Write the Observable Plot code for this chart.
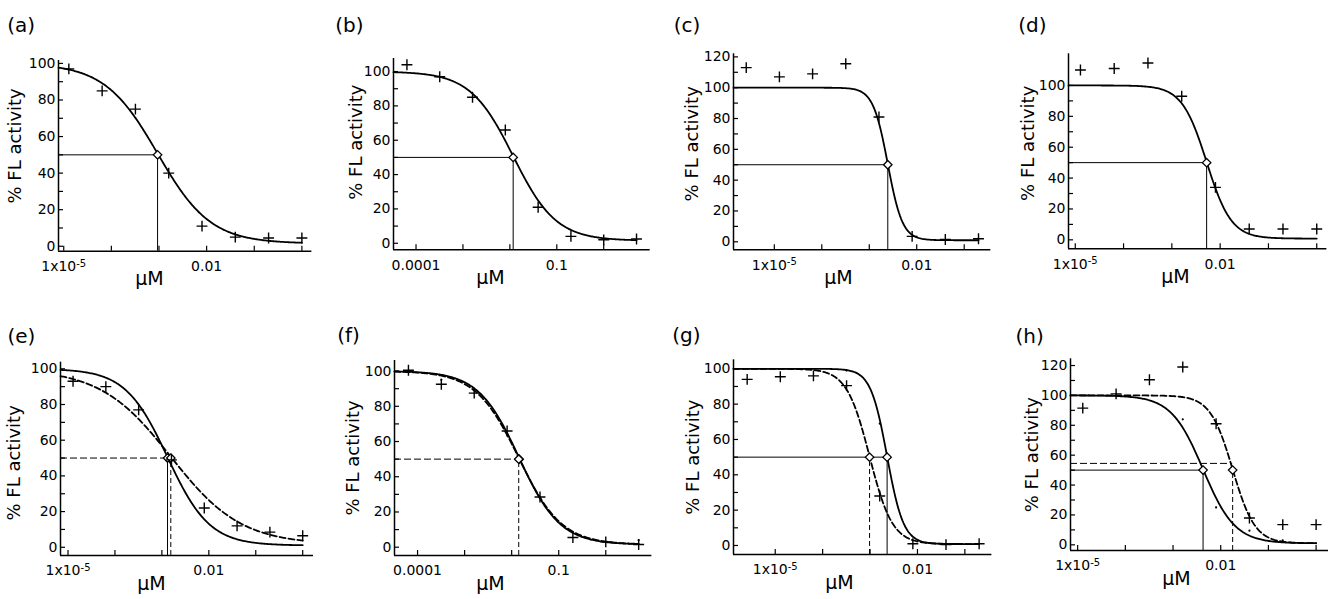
<!DOCTYPE html>
<html><head><meta charset="utf-8">
<script src="https://cdn.jsdelivr.net/npm/d3@7"></script>
<script src="https://cdn.jsdelivr.net/npm/@observablehq/plot@0.6"></script>
<style>
html,body{margin:0;padding:0;background:#fff;}
#fig{position:relative;width:1337px;height:599px;overflow:hidden;background:#fff;}
#fig .panel{position:absolute;}
</style></head><body><div id="fig"></div>
<script>
// ================= DATA =================
const panelIds = ["a","b","c","d","e","f","g","h"];

// concentrations (µM), 5-fold dilution series read from the x positions
const concA = [0.0000128, 0.000064, 0.00032, 0.0016, 0.008, 0.04, 0.2, 1];
const concB = [0.000064, 0.00032, 0.0016, 0.008, 0.04, 0.2, 1, 5];
const concC = [0.00000256, 0.0000128, 0.000064, 0.00032, 0.0016, 0.008, 0.04, 0.2];

// % FL activity at each concentration ("+" markers)
const actA = [97, 85, 75, 40, 11, 5, 4.5, 4.5];
const actB = [104, 97, 85, 66, 21, 4, 2, 2.5];
const actC = [113, 107, 109, 115.5, 81, 3.5, 1.5, 2];
const actD = [110, 111, 114.5, 93, 34, 7, 7, 7];
const actE = [93, 90, 77, 49, 22, 12, 8.5, 6.5];
const actF = [100.5, 92.5, 87.5, 66, 28.5, 5.5, 3, 1.5];
const actG = [94, 95.5, 96, 90.5, 28, 1, 0.5, 1];
const actH = [91.5, 101, 110.5, 119, 81, 18, 13.5, 13.5];

const panelConc = [concA, concB, concC, concA, concA, concB, concC, concA];
const panelAct  = [actA, actB, actC, actD, actE, actF, actG, actH];

// faint points of the second series (small dots)
const minorPanel = ["f","f","g","g","h","h","h","h"];
const minorConc  = [0.00032, 5, 0.00032, 0.0016, 0.0016, 0.008, 0.04, 0.2];
const minorAct   = [95, 4, 99, 69, 84, 25, 9.5, 3];

// fitted dose-response curves (4-parameter logistic)
const fitPanel   = ["a","b","c","d","e","e","f","f","g","g","h","h"];
const fitDashed  = [false,false,false,false,false,true,false,true,false,true,false,true];
const fitLogIC50 = [-3.03,-1.93,-2.61,-2.28,-2.88,-2.81,-1.84,-1.85,-2.64,-3.01,-2.37,-1.75];
const fitHill    = [0.78,0.95,2.8,1.7,0.97,0.58,1.0,0.95,2.5,1.8,1.3,1.85];
const fitTop     = [100,100,100,100,100,100,100,100,100,100,100,100];
const fitBottom  = [1.5,1.5,1,0.8,1,1.5,1.5,1.5,0.8,0.8,1,1];

// IC50 guide lines: which fit they belong to, and the level of the horizontal line
const hGuideFit = [0,1,2,3,5,7,8,10,11];
const hGuideY   = [50,50,50,50,50,50,50,50,54.5];
const vGuideFit = [0,1,2,3,4,5,7,8,9,10,11];

// axes
const decadesA = [1e-5, 1e-4, 1e-3, 1e-2, 1e-1, 1];
const decadesB = [1e-4, 1e-3, 1e-2, 1e-1, 1];
const decadesC = [1e-5, 1e-4, 1e-3, 1e-2, 1e-1];
const tickValsA = [1e-5, 0.01], tickTextA = ["1x10-5", "0.01"];
const tickValsB = [1e-4, 0.1],  tickTextB = ["0.0001", "0.1"];
const panelDecades = [decadesA, decadesB, decadesC, decadesA, decadesA, decadesB, decadesC, decadesA];
const panelTickVals = [tickValsA, tickValsB, tickValsA, tickValsA, tickValsA, tickValsB, tickValsA, tickValsA];
const panelTickText = [tickTextA, tickTextB, tickTextA, tickTextA, tickTextA, tickTextB, tickTextA, tickTextA];
const yMajor100 = [0, 20, 40, 60, 80, 100];
const yMajor120 = [0, 20, 40, 60, 80, 100, 120];
const yMinor100 = [10, 30, 50, 70, 90];
const yMinor120 = [10, 30, 50, 70, 90, 110];
const panelYMajor = [yMajor100, yMajor100, yMajor120, yMajor100, yMajor100, yMajor100, yMajor100, yMajor120];
const panelYMinor = [yMinor100, yMinor100, yMinor120, yMinor100, yMinor100, yMinor100, yMinor100, yMinor120];
const xLogMin = [-5.11, -4.48, -5.86, -5.14, -5.16, -4.49, -5.88, -5.15];
const xLogMax = [0.21, 0.99, -0.44, 0.21, 0.23, 0.98, -0.43, 0.26];
const yMin = [-2.7, -3.8, -5.2, -5.8, -4.6, -4.7, -5.1, -3.8];
const yMax = [101.6, 107.6, 122, 120.5, 103.7, 106, 105.1, 124.5];

// ================= LAYOUT =================
const areaLeft   = [58.3, 393.3, 732.7, 1068.3, 60, 394.3, 733.3, 1070];
const areaTop    = [60, 58, 53.3, 53.3, 361.7, 360, 359.3, 358.3];
const areaRight  = [311.7, 650, 990, 1326.7, 313, 651.7, 991.7, 1328];
const areaBottom = [250.7, 249.3, 249.3, 248.3, 555, 555, 554, 550];
const labelX     = [7, 335, 673, 1018, 7, 337, 672, 1015];
const labelBase  = [32, 32, 32, 32, 342, 342, 342, 342];
const xTitleOff  = [91, 97, 105, 107, 91, 96, 106, 106];
const yTitleOff  = [43, 37, 41, 40, 46, 41, 40, 38];
const yTitleDy   = [-10, -12, -8, -8, 4, 0, 0, 0];

const FONT = "'DejaVu Sans', 'Liberation Sans', Arial, sans-serif";
const fig = document.getElementById("fig");

function makePanel(i) {
  const id = panelIds[i];
  const rowTop = i < 4 ? 0 : 300;
  const mL = 58, mR = 8, mB = 44;
  const mT = areaTop[i] - rowTop;
  const width = areaRight[i] - areaLeft[i] + mL + mR;
  const height = areaBottom[i] - rowTop + mB;
  const x0 = 10 ** xLogMin[i], x1 = 10 ** xLogMax[i];
  const conc = panelConc[i], act = panelAct[i];
  const pts = conc.map((c, k) => ({c, v: act[k]}));
  const minor = minorPanel.map((p, k) => ({p, c: minorConc[k], v: minorAct[k]})).filter(d => d.p === id);
  const fits = fitPanel.map((p, k) => p === id ? k : -1).filter(k => k >= 0);
  const lo = xLogMin[i], hi = Math.log10(d3.max(conc));
  const curveRows = [];
  for (const k of fits) {
    for (let j = 0; j <= 240; ++j) {
      const lx = lo + (hi - lo) * j / 240;
      const y = fitBottom[k] + (fitTop[k] - fitBottom[k]) / (1 + 10 ** ((lx - fitLogIC50[k]) * fitHill[k]));
      curveRows.push({fit: k, dashed: fitDashed[k], x: 10 ** lx, y});
    }
  }
  const hg = hGuideFit.map((k, n) => ({k, y: hGuideY[n], x: 10 ** fitLogIC50[k], dashed: fitDashed[k]})).filter(d => fitPanel[d.k] === id);
  const vg = vGuideFit.map(k => ({k, x: 10 ** fitLogIC50[k], dashed: fitDashed[k]})).filter(d => fitPanel[d.k] === id);
  const ic = fits.map(k => ({x: 10 ** fitLogIC50[k], y: 50}));
  const tv = panelTickVals[i], tt = panelTickText[i];

  const svg = Plot.plot({
    width, height,
    marginLeft: mL, marginRight: mR, marginTop: mT, marginBottom: mB,
    x: {type: "log", domain: [x0, x1], label: null},
    y: {domain: [yMin[i], yMax[i]], label: null},
    style: {fontFamily: FONT, fontSize: "14px", color: "black", background: "white", overflow: "visible"},
    marks: [
      // IC50 guides
      Plot.ruleY(hg.filter(d => !d.dashed), {y: "y", x1: x0, x2: "x", stroke: "black", strokeWidth: 1}),
      Plot.ruleY(hg.filter(d => d.dashed), {y: "y", x1: x0, x2: "x", stroke: "black", strokeWidth: 1, strokeDasharray: "7,3"}),
      Plot.ruleX(vg.filter(d => !d.dashed), {x: "x", y1: yMin[i], y2: 50, stroke: "black", strokeWidth: 1}),
      Plot.ruleX(vg.filter(d => d.dashed), {x: "x", y1: yMin[i], y2: 50, stroke: "black", strokeWidth: 1, strokeDasharray: "5,3"}),
      // fitted curves
      Plot.line(curveRows.filter(d => !d.dashed), {x: "x", y: "y", z: "fit", stroke: "black", strokeWidth: 1.8}),
      Plot.line(curveRows.filter(d => d.dashed), {x: "x", y: "y", z: "fit", stroke: "black", strokeWidth: 1.8, strokeDasharray: "6,3"}),
      // frame lines
      Plot.ruleX([x0], {stroke: "black", strokeWidth: 1.5}),
      Plot.ruleY([yMin[i]], {stroke: "black", strokeWidth: 1.5}),
      // axes with inward ticks
      Plot.axisY({ticks: panelYMajor[i], tickSize: -5, tickPadding: 8, label: null, strokeWidth: 1.2}),
      Plot.axisY({ticks: panelYMinor[i], tickSize: -5, tickPadding: 8, label: null, strokeWidth: 1.2, tickFormat: () => ""}),
      Plot.axisX({ticks: panelDecades[i], tickSize: -5, tickPadding: 15, label: null, strokeWidth: 1.2,
        tickFormat: d => { const n = tv.findIndex(v => Math.abs(Math.log10(v) - Math.log10(d)) < 1e-6); return n >= 0 ? tt[n] : ""; }}),
      // data
      Plot.dot(minor, {x: "c", y: "v", r: 1.1, fill: "black"}),
      Plot.dot(ic, {x: "x", y: "y", symbol: "diamond2", r: 3.8, stroke: "black", fill: "white", strokeWidth: 1.3}),
      Plot.dot(pts, {x: "c", y: "v", symbol: "plus", r: 3.6, stroke: "black", strokeWidth: 1.4}),
      // titles
      Plot.text([`(${id})`], {text: d => d, frameAnchor: "top-left", dx: labelX[i] - areaLeft[i], dy: labelBase[i] - areaTop[i], textAnchor: "start", lineAnchor: "bottom", fontSize: 20}),
      Plot.text(["% FL activity"], {text: d => d, frameAnchor: "left", rotate: -90, textAnchor: "middle", lineAnchor: "middle", dx: -yTitleOff[i], dy: yTitleDy[i], fontSize: 18}),
      Plot.text(["\u03BCM"], {text: d => d, frameAnchor: "bottom-left", textAnchor: "middle", dx: xTitleOff[i], dy: 28, lineAnchor: "middle", fontSize: 19})
    ]
  });
  // render "1x10-5" with a raised exponent
  svg.querySelectorAll("text").forEach(t => {
    if (t.textContent === "1x10-5") {
      t.textContent = "1x10";
      const sup = document.createElementNS("http://www.w3.org/2000/svg", "tspan");
      sup.setAttribute("dy", "-0.45em");
      sup.setAttribute("font-size", "10");
      sup.textContent = "-5";
      t.appendChild(sup);
    }
  });
  svg.classList.add("panel");
  svg.style.left = (areaLeft[i] - mL) + "px";
  svg.style.top = rowTop + "px";
  fig.appendChild(svg);
}
panelIds.forEach((_, i) => makePanel(i));
</script></body></html>
